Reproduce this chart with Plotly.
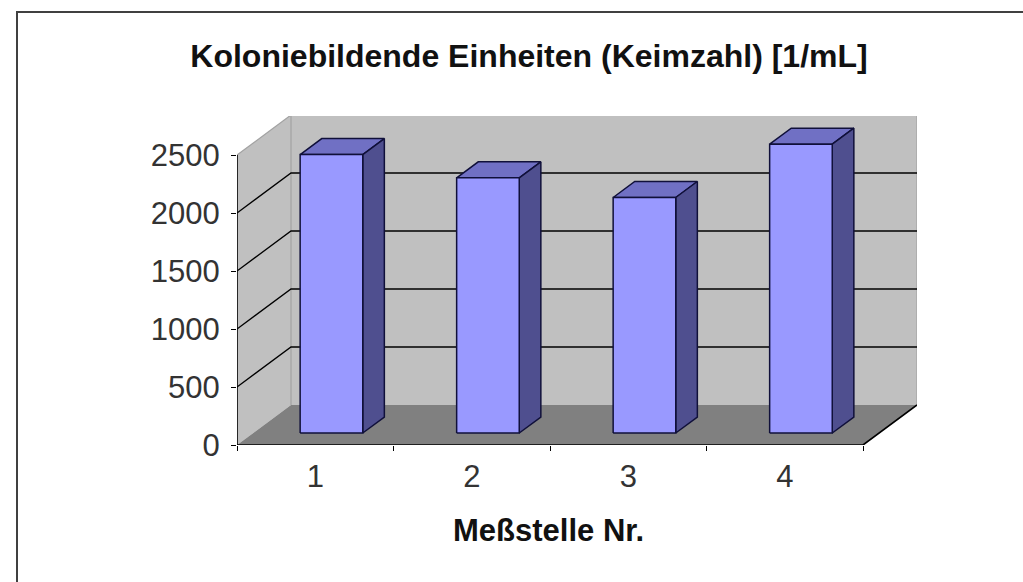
import plotly.graph_objects as go

categories = [1, 2, 3, 4]
values = [2400, 2200, 2030, 2490]
y_ticks = [0, 500, 1000, 1500, 2000, 2500]
grid_levels = [500, 1000, 1500, 2000]
title_text = "Koloniebildende Einheiten (Keimzahl) [1/mL]"
x_title_text = "Meßstelle Nr."

# pixel layout of the plot window and oblique projection of the depth axis
W, H = 1023, 582
L, R, T, B = 237, 917, 116, 445
PX_PER_CAT = 156.5
PX_PER_VAL = 0.116
DEPTH_X = 54 / PX_PER_CAT
DEPTH_Y = 40 / PX_PER_VAL
X0, X1 = 0.5, 4.5
BAR_W = 0.4
D0, D1 = 0.3, 0.7

NAVY = "#10103a"
fig = go.Figure()


def proj(x, v, d):
    return x + d * DEPTH_X, v + d * DEPTH_Y


def poly(points, fill=None, line="rgba(0,0,0,0)", width=1.0):
    xs = [p[0] for p in points]
    ys = [p[1] for p in points]
    kw = dict(fill="toself", fillcolor=fill) if fill else {}
    fig.add_trace(go.Scatter(x=xs, y=ys, mode="lines",
                             line=dict(color=line, width=width, shape="linear"),
                             hoverinfo="skip", showlegend=False, cliponaxis=False, **kw))


VMAX = y_ticks[-1]
# walls and floor
poly([proj(X0, 0, 0), proj(X0, VMAX, 0), proj(X0, VMAX, 1), proj(X1, VMAX, 1), proj(X1, 0, 1), proj(X0, 0, 1)],
     fill="#c0c0c0")
poly([proj(X0, 0, 1), proj(X0, VMAX, 1), proj(X1, VMAX, 1), proj(X1, 0, 1)], line="#a2a2a2", width=1.2)
poly([proj(X0, VMAX, 0), proj(X0, VMAX, 1)], line="#a2a2a2", width=1.2)
poly([proj(X0, 0, 0), proj(X1, 0, 0), proj(X1, 0, 1), proj(X0, 0, 1), proj(X0, 0, 0)], fill="#808080")

# grid lines on side and back wall
for v in grid_levels:
    poly([proj(X0, v, 0), proj(X0, v, 1), proj(X1, v, 1)], line="#000000", width=1.3)

# axis lines
poly([proj(X0, 0, 0), proj(X0, VMAX, 0)], line="#000000", width=1.6)
poly([proj(X0, 0, 0), proj(X1, 0, 0), proj(X1, 0, 1)], line="#000000", width=1.6)

# bars as oblique boxes
for c, v in zip(categories, values):
    a, b = c - BAR_W / 2, c + BAR_W / 2
    poly([proj(a, v, D0), proj(b, v, D0), proj(b, v, D1), proj(a, v, D1), proj(a, v, D0)],
         fill="#7070c4", line=NAVY, width=1.5)
    poly([proj(b, 0, D0), proj(b, v, D0), proj(b, v, D1), proj(b, 0, D1), proj(b, 0, D0)],
         fill="#4f4f8f", line=NAVY, width=1.5)
    poly([proj(a, 0, D0), proj(a, v, D0), proj(b, v, D0), proj(b, 0, D0), proj(a, 0, D0)],
         fill="#9999ff", line=NAVY, width=1.5)

fig.update_layout(
    width=W, height=H,
    autosize=False,
    margin=dict(l=L, r=W - R, t=T, b=H - B, pad=0),
    paper_bgcolor="#ffffff", plot_bgcolor="rgba(0,0,0,0)",
    showlegend=False,
    font=dict(family="Liberation Sans", color="#222222"),
    title=dict(text=f"<b>{title_text}</b>", xref="container", yref="container",
               x=529 / W, xanchor="center",
               y=1 - 56 / H, yanchor="middle",
               font=dict(size=32, family="Liberation Sans", color="#111111")),
    xaxis=dict(range=[X0, X1 + DEPTH_X], showgrid=False, zeroline=False, showline=False,
               tickmode="array", tickvals=categories, ticktext=[str(c) for c in categories],
               ticks="", ticklabelstandoff=10, tickfont=dict(size=31, color="#333333"),
               minor=dict(tick0=0.5, dtick=1, ticks="outside", ticklen=5, tickwidth=1.4,
                          tickcolor="#000000", showgrid=False)),
    yaxis=dict(range=[0, (B - T) / PX_PER_VAL], showgrid=False, zeroline=False, showline=False,
               tickmode="array", tickvals=y_ticks, ticktext=[str(t) for t in y_ticks],
               ticks="outside", ticklen=5, tickwidth=1.4, tickcolor="#000000",
               ticklabelstandoff=5, tickfont=dict(size=31, color="#333333")),
    annotations=[dict(text=f"<b>{x_title_text}</b>", xref="paper", yref="paper",
                      x=(548 - L) / (R - L), y=(B - 530) / (B - T),
                      xanchor="center", yanchor="middle", showarrow=False,
                      font=dict(size=31, family="Liberation Sans", color="#111111"))],
    shapes=[dict(type="rect", xref="paper", yref="paper", layer="below",
                 x0=(17 - L) / (R - L), x1=(1040 - L) / (R - L),
                 y0=(B - 600) / (B - T), y1=(B - 12) / (B - T),
                 line=dict(color="#404040", width=2), fillcolor="rgba(0,0,0,0)")],
)

fig.write_html("out.html", config=dict(displayModeBar=False),
               post_script="document.body.style.margin='0';document.body.style.overflow='hidden';")
